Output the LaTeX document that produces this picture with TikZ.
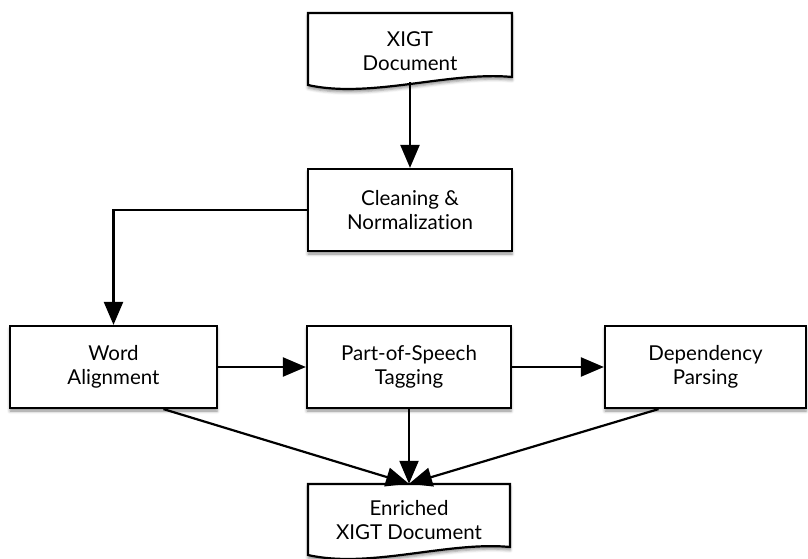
\documentclass[tikz,border=0pt]{standalone}
\usepackage{fontspec}
\setmainfont{Lato}[Ligatures={NoCommon}]
\usetikzlibrary{arrows.meta,shadows.blur}

\tikzset{
  boxshadow/.style={blur shadow={shadow xshift=0pt, shadow yshift=-3pt,
      shadow blur radius=3pt, shadow opacity=45}},
  labelfont/.style={font=\fontsize{20.5}{24.5}\selectfont},
  procbox/.style={draw, line width=2.2pt, fill=white, boxshadow,
      minimum height=82pt, inner sep=0pt, align=center, labelfont},
  doclabel/.style={inner sep=0pt, align=center, labelfont},
  docline/.style={draw, line width=2.2pt, fill=white, boxshadow},
  arr/.style={line width=2.2pt,
      -{Triangle[length=23pt,width=19pt,fill=black]}},
}

\begin{document}
\begin{tikzpicture}[x=1pt, y=-1pt]
  \useasboundingbox (0,0) rectangle (808,559);

  % document shape at the top
  \path[docline] (308,13) -- (512,13) -- (512,77)
    .. controls +(-62,-6) and +(62,14) .. (308,85) -- cycle;
  \node[doclabel, minimum width=204pt, minimum height=62pt] (xigt) at (410,51)
    {XIGT\\Document};

  % processing steps
  \node[procbox, minimum width=204pt] (clean) at (410,210)
    {Cleaning \&\\Normalization};
  \node[procbox, minimum width=207pt] (word) at (113.5,367)
    {Word\\Alignment};
  \node[procbox, minimum width=204pt] (pos) at (409,367)
    {Part-of-Speech\\Tagging};
  \node[procbox, minimum width=201pt] (dep) at (705.5,367)
    {Dependency\\Parsing};

  % enriched document at the bottom
  \path[docline] (308,484) -- (510,484) -- (510,547)
    .. controls +(-62,-6) and +(62,14) .. (308,555) -- cycle;
  \node[doclabel, minimum width=202pt, minimum height=72pt] (enr) at (409,520)
    {Enriched\\XIGT Document};

  % connectors
  \draw[arr] (xigt.south) -- (clean.north);
  \draw[arr] (clean.west) -| (word.north);
  \draw[arr] (word.east) -- (pos.west);
  \draw[arr] (pos.east) -- (dep.west);
  \draw[arr] ([xshift=50pt]word.south) -- (enr.north);
  \draw[arr] (pos.south) -- (enr.north);
  \draw[arr] ([xshift=-47pt]dep.south) -- (enr.north);
\end{tikzpicture}
\end{document}
